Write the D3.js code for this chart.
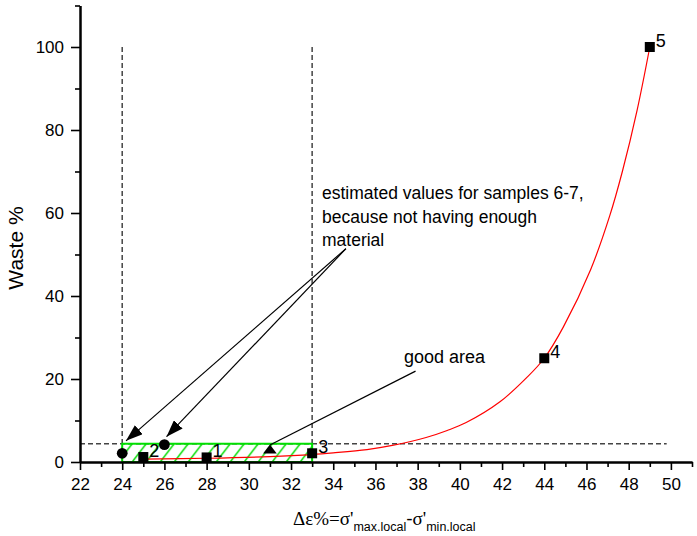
<!DOCTYPE html>
<html>
<head>
<meta charset="utf-8">
<script src="https://cdn.jsdelivr.net/npm/d3@7"></script>
<style>
  body { margin: 0; background: #fff; }
  text { font-family: "Liberation Sans", Arial, sans-serif; fill: #000; }
</style>
</head>
<body>
<div id="chart"></div>
<script>
// measured samples (numbered 1-5)
var sampleX = [28, 25, 33, 44, 49];
var sampleY = [1.1, 1.2, 2.1, 25, 100];
var sampleLabels = ["1", "2", "3", "4", "5"];

// estimated values for samples 6-7
var estX = [24, 26];
var estY = [2.1, 4.2];

// good area marker
var triX = [31];
var triY = [2.9];

// red fitted curve
var fitX = [25, 28, 31, 33, 34, 35.6, 36.8, 38.4, 39.4, 40.3, 41.9, 43.2, 44, 44.9, 46.2, 47.1, 47.7, 48.4, 49];
var fitY = [0.7, 0.9, 1.3, 1.8, 2.2, 3.0, 4.0, 5.9, 7.6, 9.5, 14.5, 20.5, 25, 32.5, 46.4, 59.3, 70, 84.8, 100];

// good area box and reference lines
var boxX = [24, 33];
var boxY = [0, 4.4];
var vLineX = [24, 33];
var vLineTop = 100;
var hLineY = 4.4;
var hLineEnd = 49.8;

// axis ticks
var xMajor = [22, 24, 26, 28, 30, 32, 34, 36, 38, 40, 42, 44, 46, 48, 50];
var xMinor = [23, 25, 27, 29, 31, 33, 35, 37, 39, 41, 43, 45, 47, 49, 51];
var yMajor = [0, 20, 40, 60, 80, 100];
var yMinor = [10, 30, 50, 70, 90, 110];

// annotation arrows [x1, y1, x2, y2] in data units
var estArrows = [[34.6, 51.4, 24.18, 5.1], [34.6, 51.4, 26.1, 6.1]];
var goodArrow = [37.9, 21.9, 31.0, 4.1];

var W = 697, H = 536;
var x = d3.scaleLinear().domain([22, 51]).range([80, 692]);
var y = d3.scaleLinear().domain([0, 110]).range([462, 5.5]);

var svg = d3.select("#chart").append("svg")
    .attr("width", W)
    .attr("height", H);

var defs = svg.append("defs");
defs.append("marker")
    .attr("id", "head")
    .attr("markerUnits", "userSpaceOnUse")
    .attr("viewBox", "0 0 17 12")
    .attr("markerWidth", 17)
    .attr("markerHeight", 12)
    .attr("refX", 17)
    .attr("refY", 6)
    .attr("orient", "auto")
    .append("path")
    .attr("d", "M0,0 L17,6 L0,12 Z")
    .attr("fill", "#000");

// hatch for the good area
var boxTop = y(boxY[1]), boxH = y(boxY[0]) - y(boxY[1]);
var hatch = defs.append("pattern")
    .attr("id", "hatch")
    .attr("patternUnits", "userSpaceOnUse")
    .attr("x", x(boxX[0]) - 4)
    .attr("y", boxTop)
    .attr("width", 14)
    .attr("height", boxH);
hatch.append("line")
    .attr("x1", 0).attr("y1", boxH)
    .attr("x2", 14).attr("y2", 0)
    .attr("stroke", "#00dd00")
    .attr("stroke-width", 1.5);

// dashed reference lines
svg.selectAll(".vline")
    .data(vLineX)
    .enter().append("line")
    .attr("x1", function (d) { return x(d); })
    .attr("x2", function (d) { return x(d); })
    .attr("y1", y(vLineTop))
    .attr("y2", y(0))
    .attr("stroke", "#444")
    .attr("stroke-width", 1.5)
    .attr("stroke-dasharray", "5,3");

svg.append("line")
    .attr("x1", x(22)).attr("x2", x(hLineEnd))
    .attr("y1", y(hLineY)).attr("y2", y(hLineY))
    .attr("stroke", "#444")
    .attr("stroke-width", 1.5)
    .attr("stroke-dasharray", "5,3");

// good area box
svg.append("rect")
    .attr("x", x(boxX[0]))
    .attr("y", boxTop)
    .attr("width", x(boxX[1]) - x(boxX[0]))
    .attr("height", boxH)
    .attr("fill", "url(#hatch)")
    .attr("stroke", "#00e000")
    .attr("stroke-width", 2);

// fitted curve
var line = d3.line()
    .x(function (d) { return x(d[0]); })
    .y(function (d) { return y(d[1]); })
    .curve(d3.curveCatmullRom.alpha(0.5));
svg.append("path")
    .datum(fitX.map(function (d, i) { return [d, fitY[i]]; }))
    .attr("d", line)
    .attr("fill", "none")
    .attr("stroke", "#ff0000")
    .attr("stroke-width", 1.2);

// markers
var sq = 10;
svg.selectAll(".sq")
    .data(sampleX)
    .enter().append("rect")
    .attr("x", function (d) { return x(d) - sq / 2; })
    .attr("y", function (d, i) { return y(sampleY[i]) - sq / 2; })
    .attr("width", sq)
    .attr("height", sq)
    .attr("fill", "#000");

svg.selectAll(".lbl")
    .data(sampleLabels)
    .enter().append("text")
    .attr("x", function (d, i) { return x(sampleX[i]) + 6; })
    .attr("y", function (d, i) { return y(sampleY[i]); })
    .style("font-size", "18px")
    .text(function (d) { return d; });

svg.selectAll(".est")
    .data(estX)
    .enter().append("circle")
    .attr("cx", function (d) { return x(d); })
    .attr("cy", function (d, i) { return y(estY[i]); })
    .attr("r", 5.4)
    .attr("fill", "#000");

svg.selectAll(".tri")
    .data(triX)
    .enter().append("path")
    .attr("transform", function (d, i) { return "translate(" + x(d) + "," + y(triY[i]) + ")"; })
    .attr("d", "M0,-5.5 L6.8,3.5 L-6.8,3.5 Z")
    .attr("fill", "#000");

// axes
var xAxis = svg.append("g").attr("transform", "translate(0," + y(0) + ")");
xAxis.call(d3.axisBottom(x).tickValues(xMinor).tickSize(5).tickSizeOuter(0).tickFormat(""));
var xAxis2 = svg.append("g").attr("transform", "translate(0," + y(0) + ")");
xAxis2.call(d3.axisBottom(x).tickValues(xMajor).tickSize(8).tickSizeOuter(0).tickPadding(8));

var yAxis = svg.append("g").attr("transform", "translate(" + x(22) + ",0)");
yAxis.call(d3.axisLeft(y).tickValues(yMinor).tickSize(5).tickSizeOuter(0).tickFormat(""));
var yAxis2 = svg.append("g").attr("transform", "translate(" + x(22) + ",0)");
yAxis2.call(d3.axisLeft(y).tickValues(yMajor).tickSize(9).tickSizeOuter(0).tickPadding(7));

svg.selectAll(".domain").attr("stroke", "#000").attr("stroke-width", 2);
svg.selectAll(".tick line").attr("stroke", "#000").attr("stroke-width", 1.6);
svg.selectAll(".tick text")
    .style("font-family", "'Liberation Sans', Arial, sans-serif")
    .style("font-size", "17px")
    .attr("fill", "#000");

// axis titles
svg.append("text")
    .attr("transform", "translate(23,248) rotate(-90)")
    .attr("text-anchor", "middle")
    .style("font-size", "21px")
    .text("Waste %");

var xt = svg.append("text")
    .attr("x", 293)
    .attr("y", 525);
xt.append("tspan").style("font-family", "'Liberation Serif', serif").style("font-size", "19px").text("Δε%=σ'");
xt.append("tspan").style("font-size", "12.5px").attr("dy", 6).text("max.local");
xt.append("tspan").style("font-size", "19px").attr("dy", -6).text("-");
xt.append("tspan").style("font-family", "'Liberation Serif', serif").style("font-size", "19px").text("σ'");
xt.append("tspan").style("font-size", "12.5px").attr("dy", 6).text("min.local");

// annotations
var note = ["estimated values for samples 6-7,", "because not having enough", "material"];
svg.selectAll(".note")
    .data(note)
    .enter().append("text")
    .attr("x", 322)
    .attr("y", function (d, i) { return 199 + i * 23.5; })
    .style("font-size", "17.5px")
    .text(function (d) { return d; });

svg.append("text")
    .attr("x", 404)
    .attr("y", 363)
    .style("font-size", "18px")
    .text("good area");

svg.selectAll(".arrow")
    .data(estArrows)
    .enter().append("line")
    .attr("x1", function (d) { return x(d[0]); })
    .attr("y1", function (d) { return y(d[1]); })
    .attr("x2", function (d) { return x(d[2]); })
    .attr("y2", function (d) { return y(d[3]); })
    .attr("stroke", "#000")
    .attr("stroke-width", 1.2)
    .attr("marker-end", "url(#head)");

svg.append("line")
    .attr("x1", x(goodArrow[0]))
    .attr("y1", y(goodArrow[1]))
    .attr("x2", x(goodArrow[2]))
    .attr("y2", y(goodArrow[3]))
    .attr("stroke", "#000")
    .attr("stroke-width", 1.2);
</script>
</body>
</html>
